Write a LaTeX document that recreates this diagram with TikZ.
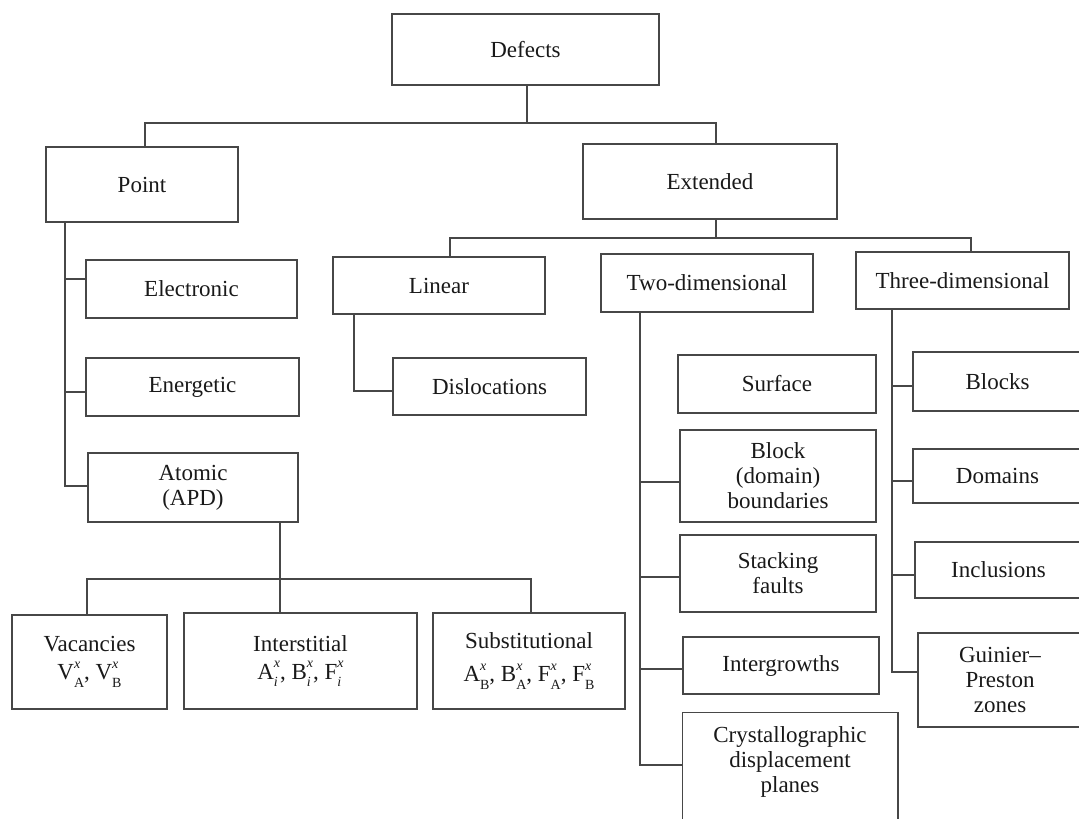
\documentclass[tikz,border=0pt]{standalone}
\usepackage{fontspec}
\setmainfont{Liberation Serif}
\newsavebox\mysupbox
\newsavebox\mysubbox
\newcommand\spx[3]{#1\sbox\mysupbox{\fontsize{14}{14}\selectfont\itshape #2}\sbox\mysubbox{\fontsize{14}{14}\selectfont #3}%
  \ifdim\wd\mysupbox>\wd\mysubbox
    \rlap{\raisebox{-0.32em}{\usebox\mysubbox}}\raisebox{0.5em}{\usebox\mysupbox}%
  \else
    \rlap{\raisebox{0.5em}{\usebox\mysupbox}}\raisebox{-0.32em}{\usebox\mysubbox}%
  \fi}
\begin{document}
\begin{tikzpicture}[x=1pt,y=-1pt,
  box/.style={draw=black!72, line width=1.5pt, inner sep=0pt, align=center,
    font=\fontsize{23}{25}\selectfont, text=black!90},
  con/.style={draw=black!72, line width=1.5pt},
]
\useasboundingbox (0,0) rectangle (1079,819);
\clip (0,0) rectangle (1079,819);

% level 0-1
\node[box, minimum width=267, minimum height=71] (defects) at (525.5,49.5) {Defects};
\node[box, minimum width=192, minimum height=75] (point) at (142,184.5) {Point};
\node[box, minimum width=254, minimum height=75] (extended) at (710,181.5) {Extended};

% extended children
\node[box, minimum width=212, minimum height=57] (linear) at (439,285.5) {Linear};
\node[box, minimum width=212, minimum height=58] (twod) at (707,283) {Two-dimensional};
\node[box, minimum width=213, minimum height=57] (threed) at (962.5,280.5) {Three-dimensional};

% point children
\node[box, minimum width=211, minimum height=58] (electronic) at (191.5,289) {Electronic};
\node[box, minimum width=213, minimum height=58] (energetic) at (192.5,387) {Energetic};
\node[box, minimum width=210, minimum height=69] (atomic) at (193,487.5) {Atomic\\(APD)};

% linear child
\node[box, minimum width=193, minimum height=57] (dislocations) at (489.5,386.5) {Dislocations};

% two-dimensional children
\node[box, minimum width=198, minimum height=58] (surface) at (777,384) {Surface};
\node[box, minimum width=196, minimum height=92] (block) at (778,476) {Block\\(domain)\\boundaries};
\node[box, minimum width=196, minimum height=77] (stacking) at (778,573.5) {Stacking\\faults};
\node[box, minimum width=196, minimum height=57] (intergrowths) at (781,665.5) {Intergrowths};
\node[box, draw=none, minimum width=214, minimum height=98] (cryst) at (790,762) {Crystallographic\\displacement\\planes};
\draw[con] ([yshift=-30]cryst.south west) -- (cryst.north west) -- (cryst.north east) -- ([yshift=-30]cryst.south east);

% three-dimensional children
\node[box, minimum width=169, minimum height=59] (blocks) at (997.5,381.5) {Blocks};
\node[box, minimum width=169, minimum height=54] (domains) at (997.5,476) {Domains};
\node[box, minimum width=167, minimum height=56] (inclusions) at (998.5,570) {Inclusions};
\node[box, minimum width=164, minimum height=94] (guinier) at (1000,680) {Guinier--\\Preston\\zones};

% atomic children
\node[box, minimum width=155, minimum height=94, font=\fontsize{23}{28}\selectfont] (vacancies) at (89.5,662)
  {Vacancies\\\spx{V}{x}{A}, \spx{V}{x}{B}};
\node[box, minimum width=233, minimum height=96, font=\fontsize{23}{28}\selectfont] (interstitial) at (300.5,661)
  {Interstitial\\\spx{A}{x}{\itshape i}, \spx{B}{x}{\itshape i}, \spx{F}{x}{\itshape i}};
\node[box, minimum width=192, minimum height=96, font=\fontsize{23}{33}\selectfont] (substitutional) at (529,661)
  {Substitutional\\\spx{A}{x}{B}, \spx{B}{x}{A}, \spx{F}{x}{A}, \spx{F}{x}{B}};

% connectors: defects
\coordinate (bus1) at (527,123);
\draw[con] (defects.south -| bus1) -- (bus1);
\draw[con] ([xshift=3]point.north) |- (bus1) -| ([xshift=6]extended.north);

% extended
\coordinate (bus2) at (716,238);
\draw[con] (extended.south -| bus2) -- (bus2);
\draw[con] ([xshift=11]linear.north) |- (bus2) -| ([xshift=8.5]threed.north);

% point trunk
\coordinate (tp) at (65,486);
\draw[con] (point.south -| tp) -- (tp) -- ([yshift=1.5]atomic.west);
\draw[con] ([yshift=10]electronic.west) -- ([yshift=10]electronic.west -| tp);
\draw[con] ([yshift=-5]energetic.west) -- ([yshift=-5]energetic.west -| tp);

% linear trunk
\coordinate (tl) at (354,391);
\draw[con] (linear.south -| tl) -- (tl) -- ([yshift=-4.5]dislocations.west);

% atomic bus
\coordinate (bus3) at (280,579);
\draw[con] (atomic.south -| bus3) -- (bus3);
\draw[con] ([xshift=-2.5]vacancies.north) |- (bus3) -| ([xshift=2]substitutional.north);
\draw[con] (bus3) -- (interstitial.north -| bus3);

% two-dimensional trunk
\coordinate (t2) at (640,765);
\draw[con] (twod.south -| t2) -- (t2) -- ([yshift=-3]cryst.west);
\draw[con] ([yshift=-6]block.west) -- ([yshift=-6]block.west -| t2);
\draw[con] ([yshift=-3.5]stacking.west) -- ([yshift=-3.5]stacking.west -| t2);
\draw[con] ([yshift=-3.5]intergrowths.west) -- ([yshift=-3.5]intergrowths.west -| t2);

% three-dimensional trunk
\coordinate (t3) at (892,672);
\draw[con] (threed.south -| t3) -- (t3) -- ([yshift=8]guinier.west);
\draw[con] ([yshift=-4.5]blocks.west) -- ([yshift=-4.5]blocks.west -| t3);
\draw[con] ([yshift=-5]domains.west) -- ([yshift=-5]domains.west -| t3);
\draw[con] ([yshift=-5]inclusions.west) -- ([yshift=-5]inclusions.west -| t3);
\end{tikzpicture}
\end{document}
